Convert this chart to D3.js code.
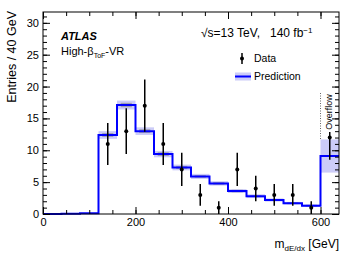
<!DOCTYPE html>
<html>
<head>
<meta charset="utf-8">
<script src="https://cdn.jsdelivr.net/npm/d3@7"></script>
<style>
  body { margin: 0; background: #fff; }
  text { font-family: "Liberation Sans", Arial, Helvetica, sans-serif; }
</style>
</head>
<body>
<svg id="chart" width="357" height="262"></svg>
<script>
// bin low edges (GeV), last bin = overflow
let binLo = [0, 40, 80, 120, 160, 200, 240, 280, 320, 360, 400, 440, 480, 520, 560, 600];
let binW = 40;
let pred = [0, 0.03, 0.1, 12.4, 17.1, 13.0, 9.4, 7.3, 5.9, 4.8, 3.6, 2.8, 2.2, 1.7, 1.3, 9.1];
let predUnc = [0, 0, 0.05, 0.6, 0.7, 0.6, 0.5, 0.45, 0.4, 0.35, 0.3, 0.3, 0.25, 0.2, 0.2, 2.6];
let predStat = [0, 0, 0, 0.3, 0.35, 0.3, 0.3, 0.25, 0.2, 0.2, 0.2, 0.15, 0.15, 0.15, 0.15, 0];

let dataX = [140, 180, 220, 260, 300, 340, 380, 420, 460, 500, 540, 580, 620];
let dataY = [11, 13, 17, 11, 7, 3, 1, 7, 4, 3, 3, 1, 12];
let dataErr = [3.3, 3.6, 4.1, 3.3, 2.6, 1.7, 1.0, 2.6, 2.0, 1.7, 1.7, 1.0, 3.5];

let xMajor = [0, 200, 400, 600];
let yMajor = [0, 5, 10, 15, 20, 25, 30];

let svg = d3.select("#chart");
let L = 43, R = 339, T = 12, B = 214;

let x = d3.scaleLinear().domain([0, 640]).range([L, R]);
let y = d3.scaleLinear().domain([0, 31.7]).range([B, T]);

let bins = binLo.map((lo, i) => ({ lo: lo, v: pred[i], u: predUnc[i], s: predStat[i] }));

// uncertainty band
svg.append("g").selectAll("rect")
  .data(bins.filter(d => d.u > 0))
  .join("rect")
  .attr("x", d => x(d.lo))
  .attr("width", d => x(d.lo + binW) - x(d.lo))
  .attr("y", d => y(d.v + d.u))
  .attr("height", d => y(d.v - d.u) - y(d.v + d.u))
  .style("fill", "#ccccf8");

// inner grey boxes
svg.append("g").selectAll("rect")
  .data(bins.filter(d => d.s > 0))
  .join("rect")
  .attr("x", d => x(d.lo + 8))
  .attr("width", d => x(d.lo + 32) - x(d.lo + 8))
  .attr("y", d => y(d.v + d.s))
  .attr("height", d => y(d.v - d.s) - y(d.v + d.s))
  .style("fill", "#a0a0b0");

// prediction step line
let steps = bins.map(d => [d.lo, d.v]);
steps.push([640, pred[pred.length - 1]]);
svg.append("path")
  .datum(steps)
  .attr("d", d3.line().x(d => x(d[0])).y(d => y(d[1])).curve(d3.curveStepAfter))
  .style("fill", "none")
  .style("stroke", "#0000ff")
  .style("stroke-width", 2);

// overflow marker
svg.append("line")
  .attr("x1", x(600)).attr("x2", x(600))
  .attr("y1", 93).attr("y2", y(pred[15] + predUnc[15]))
  .style("stroke", "#666").style("stroke-width", 1).style("stroke-dasharray", "1,1.5");

// data
let pts = dataX.map((v, i) => ({ x: v, y: dataY[i], e: dataErr[i] }));
svg.append("g").selectAll("line")
  .data(pts)
  .join("line")
  .attr("x1", d => x(d.x)).attr("x2", d => x(d.x))
  .attr("y1", d => y(Math.max(0, d.y - d.e))).attr("y2", d => y(d.y + d.e))
  .style("stroke", "#000").style("stroke-width", 1.5);
svg.append("g").selectAll("circle")
  .data(pts)
  .join("circle")
  .attr("cx", d => x(d.x)).attr("cy", d => y(d.y)).attr("r", 2)
  .style("fill", "#000");

// overflow label
let ovx = 332, ovy = 112;
svg.append("rect").attr("x", ovx - 8).attr("y", 93).attr("width", 10).attr("height", 39).style("fill", "#fff");
svg.append("text")
  .attr("transform", `translate(${ovx},${ovy}) rotate(-90)`)
  .attr("text-anchor", "middle")
  .style("font-size", "9px")
  .text("Overflow");

// axes
function ax(gen, tr, vals, size, labels) {
  let g = svg.append("g").attr("transform", tr)
    .call(gen.tickValues(vals).tickSize(size).tickPadding(labels ? 4 : 0)
      .tickFormat(labels ? d3.format("d") : ""));
  g.select(".domain").remove();
  g.selectAll("line").style("stroke", "#000");
  g.selectAll("text").style("font-size", "11px").style("font-family", "Liberation Sans, Arial, sans-serif").style("fill", "#000");
  return g;
}
let xMinor = d3.range(0, 641, 50);
let yMinor = d3.range(0, 32, 1);
ax(d3.axisBottom(x), `translate(0,${B})`, xMinor, -4, false);
ax(d3.axisBottom(x), `translate(0,${B})`, xMajor, -7, true);
ax(d3.axisTop(x), `translate(0,${T})`, xMinor, -4, false);
ax(d3.axisTop(x), `translate(0,${T})`, xMajor, -7, false);
ax(d3.axisLeft(y), `translate(${L},0)`, yMinor, -4, false);
ax(d3.axisLeft(y), `translate(${L},0)`, yMajor, -7, true);
ax(d3.axisRight(y), `translate(${R},0)`, yMinor, -4, false);
ax(d3.axisRight(y), `translate(${R},0)`, yMajor, -7, false);

svg.append("rect")
  .attr("x", L).attr("y", T).attr("width", R - L).attr("height", B - T)
  .style("fill", "none").style("stroke", "#000").style("stroke-width", 1);

// axis titles
svg.append("text")
  .attr("transform", "translate(16,11) rotate(-90)")
  .attr("text-anchor", "end")
  .style("font-size", "12.5px")
  .text("Entries / 40 GeV");

let xt = svg.append("text")
  .attr("x", R).attr("y", 248)
  .attr("text-anchor", "end")
  .style("font-size", "12px");
xt.append("tspan").text("m");
xt.append("tspan").attr("dy", 3).style("font-size", "8px").text("dE/dx");
xt.append("tspan").attr("dy", -3).text(" [GeV]");

// labels
svg.append("text")
  .attr("x", 61).attr("y", 40)
  .style("font-size", "11px").style("font-weight", "bold").style("font-style", "italic")
  .text("ATLAS");
let sub = svg.append("text").attr("x", 61).attr("y", 55).style("font-size", "11px");
sub.append("tspan").text("High-β");
sub.append("tspan").attr("dy", 3).style("font-size", "7px").text("ToF");
sub.append("tspan").attr("dy", -3).text("-VR");

let en = svg.append("text").attr("x", 201).attr("y", 37).style("font-size", "12px").style("white-space", "pre");
en.append("tspan").text("√s=13 TeV,   140 fb");
en.append("tspan").attr("dy", -4).style("font-size", "8px").text("−1");

// legend
svg.append("line").attr("x1", 242).attr("x2", 242).attr("y1", 53).attr("y2", 64)
  .style("stroke", "#000").style("stroke-width", 1.5);
svg.append("circle").attr("cx", 242).attr("cy", 58.5).attr("r", 2).style("fill", "#000");
svg.append("text").attr("x", 254).attr("y", 62).style("font-size", "10.5px").text("Data");

svg.append("rect").attr("x", 235).attr("y", 72.5).attr("width", 16).attr("height", 8).style("fill", "#ccccf8");
svg.append("line").attr("x1", 235).attr("x2", 251).attr("y1", 76.5).attr("y2", 76.5)
  .style("stroke", "#0000ff").style("stroke-width", 2);
svg.append("text").attr("x", 254).attr("y", 80).style("font-size", "10.5px").text("Prediction");
</script>
</body>
</html>
